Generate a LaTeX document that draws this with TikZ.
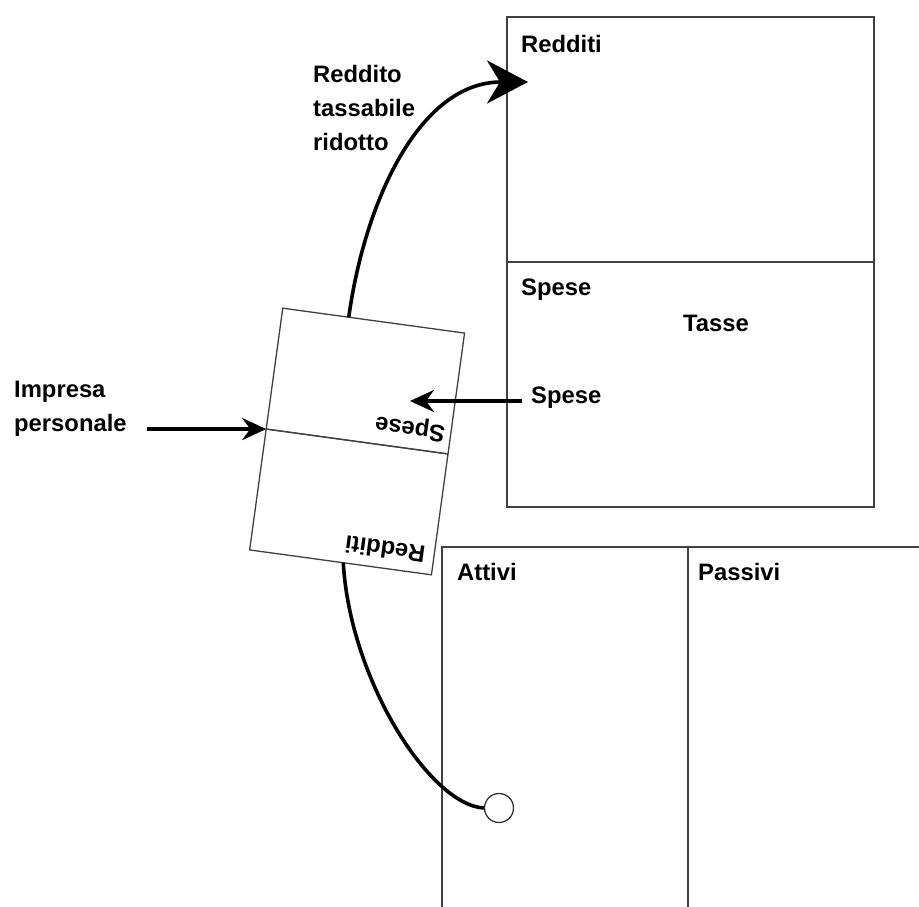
\documentclass[tikz,border=0pt]{standalone}
\usepackage{fontspec}
\setmainfont{Liberation Sans}
\usetikzlibrary{arrows.meta,calc}

\def\tilt{172.2}
\def\tlist{{(521,53)/redditiT/Redditi}, {(521,295)/speseT/Spese}, {(683,331)/tasse/Tasse}, {(457,580)/attivi/Attivi}, {(698,580)/passivi/Passivi}}
\tikzstyle{panel}=[draw=black!75, line width=1.3pt, rectangle, inner sep=0pt, outer sep=0pt]
\tikzstyle{word}=[font=\bfseries\fontsize{23.8}{34}\selectfont, inner sep=0pt, anchor=base west]
\tikzstyle{flow}=[draw, line width=3.6pt, -{Stealth[length=24pt,width=22pt,inset=8pt]}]
\tikzstyle{big-flow}=[draw, line width=3.6pt, -{Stealth[length=41pt,width=43pt,inset=13pt]}]
\tikzstyle{tail}=[draw, line width=3.6pt]
\tikzstyle{end-dot}=[circle, draw=black!80, line width=1.3pt, fill=white, minimum size=29pt, inner sep=0pt]

\begin{document}
\begin{tikzpicture}[x=1pt,y=-1pt]
  \useasboundingbox (0,0) rectangle (919,907);
  % redditi / spese
  \node[panel, anchor=north west, minimum width=367pt, minimum height=245pt] (redditi) at (507,17) {};
  \node[panel, anchor=north west, minimum width=367pt, minimum height=245pt] (spese) at (redditi.south west) {};
  % attivi / passivi, open at the bottom
  \draw[black!75, line width=1.3pt] (442,907) -- (442,547) -- (919,547);
  \draw[black!75, line width=1.3pt] (688,547) -- (688,907);
  \foreach \pos/\name/\txt in \tlist {
    \node[word] (\name) at \pos {\txt};
  }

  % impresa personale, turned over
  \begin{scope}[shift={(357.1,441.5)}, rotate=\tilt, transform shape]
    \node[panel, minimum width=183.5pt, minimum height=122pt] (redditiP) at (0,-61) {};
    \node[panel, minimum width=183.5pt, minimum height=122pt] (speseP) at (0,61) {};
    \node[word] (redditiPT) at (-83,-95) {Redditi};
    \node[word] (spesePT) at (-86,27) {Spese};
  \end{scope}

  \node[word, anchor=north west, align=left] (impresa) at (14,381) {Impresa\\personale};
  \node[word, anchor=north west, align=left] (ridotto) at (313,65) {Reddito\\tassabile\\ridotto};
  \node[word] (speseIn) at (531,403) {Spese};
  \node[end-dot] (cassa) at (499,808) {};
  \coordinate (speseTip) at (410,401);
  \coordinate (redditiTip) at (528,82);

  \path[flow] ($(impresa.east |- speseP.north east)+(20,0)$) -- (speseP.north east);
  \path[flow] ($(speseIn.west |- speseTip)+(-9,0)$) -- (speseTip);
  \path[big-flow] ($(speseP.south east)!0.363!(speseP.south west)$) .. controls (365,200) and (420,82) .. (redditiTip);
  \path[tail] ($(redditiP.north east)!0.515!(redditiP.north west)$) .. controls (350,680) and (430,805) .. (cassa.west);
\end{tikzpicture}
\end{document}
